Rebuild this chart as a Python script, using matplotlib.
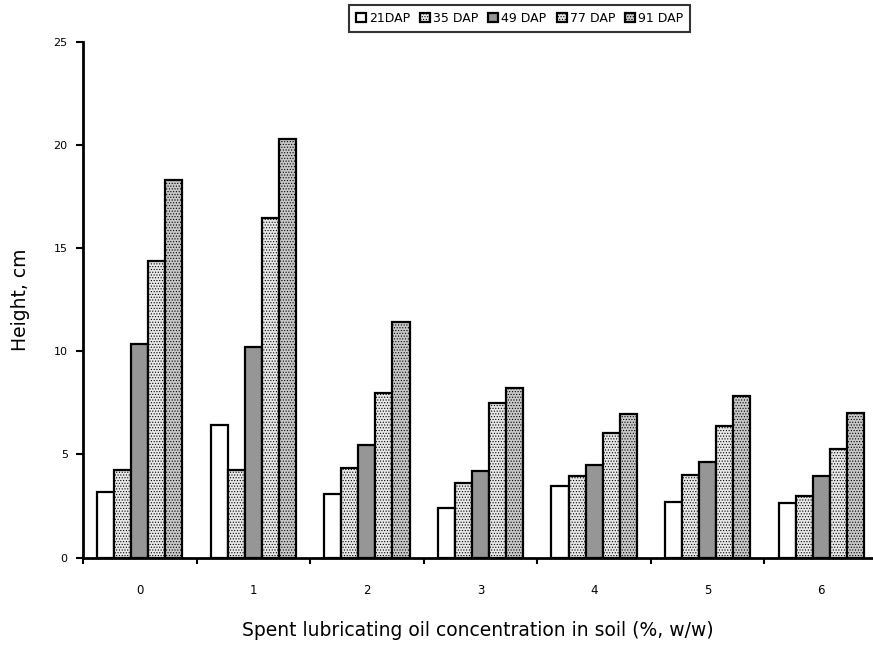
import matplotlib
matplotlib.use("Agg")
import matplotlib.pyplot as plt
import numpy as np

categories = ["0", "1", "2", "3", "4", "5", "6"]
series_names = ["21DAP", "35 DAP", "49 DAP", "77 DAP", "91 DAP"]
dap21 = [3.18, 6.45, 3.10, 2.39, 3.45, 2.71, 2.65]
dap35 = [4.26, 4.23, 4.36, 3.62, 3.97, 4.00, 2.97]
dap49 = [10.37, 10.20, 5.47, 4.20, 4.47, 4.65, 3.97]
dap77 = [14.37, 16.46, 7.97, 7.51, 6.02, 6.38, 5.25]
dap91 = [18.31, 20.29, 11.44, 8.22, 6.94, 7.83, 7.01]
y_ticks = [0, 5, 10, 15, 20, 25]

series = [dap21, dap35, dap49, dap77, dap91]
faces = ["white", "#e8e8e8", "#969696", "#e8e8e8", "#c8c8c8"]
hatches = [None, "......", None, "......", "......"]

plt.rcParams['font.family'] = ['DejaVu Sans']
plt.rcParams['hatch.linewidth'] = 0.5
plt.rcParams['hatch.color'] = '#8a8a8a'

fig = plt.figure(figsize=(8.73, 6.45), dpi=100)
ax = fig.add_axes([83/873, 1-557.5/645, 795/873, (557.5-42)/645])

x = np.arange(len(categories))
w = 0.15
handles = []
for i, (vals, fc, h) in enumerate(zip(series, faces, hatches)):
    pos = x + (i - 2) * w
    b = ax.bar(pos, vals, width=w, color=fc, edgecolor='black', linewidth=1.6,
               hatch=h, label=series_names[i], zorder=2)
    handles.append(b)

ax.set_xlim(-0.5, 6.5)
ax.set_ylim(0, 25)
ax.set_yticks(y_ticks)
ax.set_yticklabels([str(t) for t in y_ticks], fontsize=8)
ax.set_xticks(np.arange(-0.5, 7.0, 1.0))
ax.set_xticklabels([])
ax.set_xticks(x, minor=True)
ax.set_xticklabels(categories, minor=True, fontsize=8.5)
ax.tick_params(axis='x', which='minor', length=0, pad=19)
ax.tick_params(axis='x', which='major', direction='out', length=4, width=1.5)
ax.tick_params(axis='y', direction='out', length=5, width=1.5, pad=6)

for s in ['top', 'right']:
    ax.spines[s].set_visible(False)
ax.spines['left'].set_linewidth(2)
ax.spines['bottom'].set_linewidth(2)

ax.set_ylabel("Height, cm", fontsize=13.5, va='center')
ax.yaxis.set_label_coords(-(83 - 21) / 795, 0.5, transform=ax.transAxes)
ax.xaxis.set_label_coords(0.5, -(630 - 557.5) / (557.5 - 42), transform=ax.transAxes)
ax.set_xlabel("Spent lubricating oil concentration in soil (%, w/w)", fontsize=13.5, va='center')
ax.xaxis.label.set_x((478 - 83) / 795)

leg = fig.legend(handles=handles, labels=series_names, loc='upper center',
                 bbox_to_anchor=(519.5/873, 1-5/645), ncol=5, fontsize=9,
                 frameon=True, fancybox=False, handlelength=0.8, handleheight=0.8,
                 handletextpad=0.25, columnspacing=0.8, borderpad=0.55, borderaxespad=0)
leg.get_frame().set_edgecolor('black')
leg.get_frame().set_linewidth(1.5)

fig.savefig("out.png", dpi=100)
